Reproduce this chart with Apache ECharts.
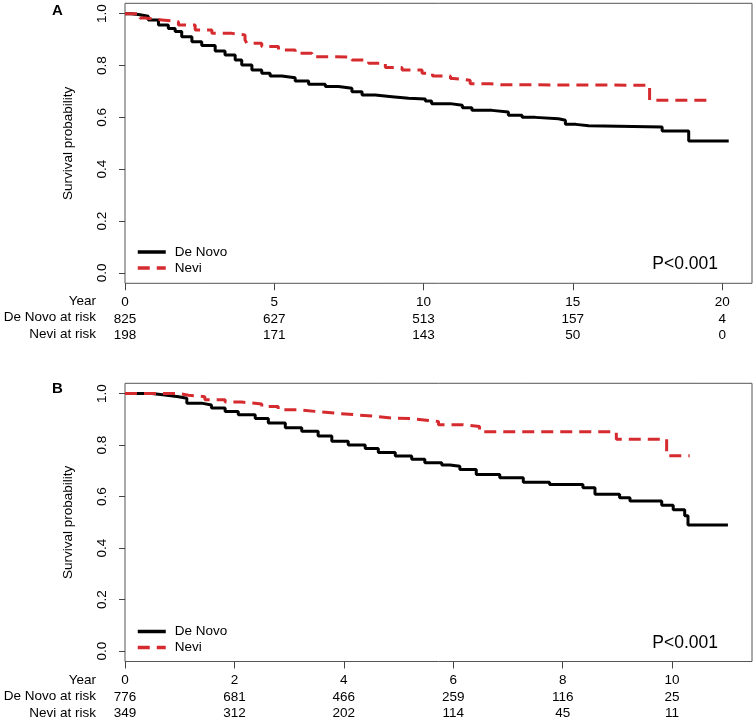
<!DOCTYPE html>
<html>
<head>
<meta charset="utf-8">
<script src="https://cdn.jsdelivr.net/npm/echarts@6/dist/echarts.min.js"></script>
<style>
  html, body { margin: 0; padding: 0; background: #fff; }
  #main { width: 755px; height: 722px; }
</style>
</head>
<body>
<div id="main"></div>
<script>
// Panel A: Kaplan-Meier steps (years, survival)
var deNovoTimeA = [0, 0.2, 0.45, 0.78, 1.12, 1.45, 1.68, 1.9, 2.24, 2.57, 3.02, 3.35, 3.69, 3.91, 4.25, 4.58, 4.86, 5.25, 5.7, 6.15, 6.71, 7.15, 7.6, 7.94, 8.38, 8.94, 9.5, 10.06, 10.27, 10.89, 11.3, 11.62, 12.29, 12.84, 13.3, 13.74, 14.52, 14.75, 15.1, 15.53, 17.99, 18.88, 20.22];
var deNovoSurvA = [1.0, 0.997, 0.99, 0.976, 0.956, 0.943, 0.931, 0.911, 0.892, 0.877, 0.856, 0.841, 0.821, 0.802, 0.783, 0.77, 0.76, 0.753, 0.74, 0.728, 0.719, 0.712, 0.699, 0.686, 0.68, 0.674, 0.671, 0.663, 0.653, 0.647, 0.637, 0.627, 0.621, 0.608, 0.6, 0.595, 0.589, 0.573, 0.568, 0.563, 0.547, 0.509, 0.509];
var neviTimeA = [0, 0.5, 0.67, 1.23, 1.79, 2.35, 2.91, 3.58, 4.02, 4.08, 4.58, 5.14, 5.7, 6.26, 6.93, 7.6, 8.16, 8.72, 9.28, 9.95, 10.3, 10.9, 11.0, 11.56, 12.23, 12.6, 17.57, 19.5];
var neviSurvA = [1.0, 0.983, 0.976, 0.969, 0.956, 0.937, 0.924, 0.918, 0.898, 0.886, 0.873, 0.86, 0.847, 0.834, 0.832, 0.821, 0.809, 0.792, 0.783, 0.77, 0.76, 0.75, 0.743, 0.73, 0.726, 0.724, 0.666, 0.666];
var yearTicksA = [0, 5, 10, 15, 20];
var deNovoRiskA = [825, 627, 513, 157, 4];
var neviRiskA = [198, 171, 143, 50, 0];

// Panel B
var deNovoTimeB = [0, 0.49, 0.73, 0.98, 1.13, 1.4, 1.58, 1.83, 2.07, 2.38, 2.62, 2.93, 3.23, 3.53, 3.78, 4.08, 4.39, 4.63, 4.94, 5.24, 5.48, 5.79, 5.94, 6.12, 6.42, 6.85, 7.28, 7.76, 8.37, 8.59, 9.04, 9.23, 9.81, 10.02, 10.23, 10.29, 11.02];
var deNovoSurvB = [1.0, 0.995, 0.988, 0.982, 0.963, 0.956, 0.944, 0.931, 0.918, 0.903, 0.886, 0.867, 0.854, 0.835, 0.815, 0.8, 0.787, 0.771, 0.758, 0.745, 0.732, 0.723, 0.718, 0.705, 0.686, 0.673, 0.656, 0.647, 0.635, 0.609, 0.596, 0.583, 0.567, 0.549, 0.526, 0.49, 0.49];
var neviTimeB = [0, 1.0, 1.16, 1.46, 1.83, 2.13, 2.5, 2.8, 3.17, 3.47, 3.84, 4.2, 4.57, 4.88, 5.24, 5.55, 5.73, 6.18, 6.48, 8.98, 9.9, 10.32];
var neviSurvB = [1.0, 0.994, 0.988, 0.976, 0.967, 0.96, 0.95, 0.937, 0.931, 0.924, 0.918, 0.912, 0.905, 0.903, 0.896, 0.892, 0.879, 0.872, 0.852, 0.823, 0.759, 0.759];
var yearTicksB = [0, 2, 4, 6, 8, 10];
var deNovoRiskB = [776, 681, 466, 259, 116, 25];
var neviRiskB = [349, 312, 202, 114, 45, 11];

var survTicks = [0, 0.2, 0.4, 0.6, 0.8, 1.0];

var FONT = '"Liberation Sans", Arial, sans-serif';
var RED = '#d52b2f';

function zip(t, s) {
  return t.map(function (v, i) { return [v, s[i]]; });
}

function xAxisFor(idx, xMax, ticks, riskD, riskN) {
  return {
    type: 'value', gridIndex: idx, min: 0, max: xMax,
    axisLine: { show: false, onZero: false },
    splitLine: { show: false },
    axisTick: { show: true, length: 7, customValues: ticks, lineStyle: { color: '#444' } },
    axisLabel: {
      customValues: ticks, margin: 11, color: '#000', fontSize: 13.5,
      fontFamily: FONT, lineHeight: 16.5, align: 'center',
      formatter: function (v) {
        var i = ticks.indexOf(v);
        return v + '\n' + riskD[i] + '\n' + riskN[i];
      }
    }
  };
}

function yAxisFor(idx) {
  return {
    type: 'value', gridIndex: idx, min: -0.04, max: 1.04,
    name: 'Survival probability', nameLocation: 'middle', nameGap: 50,
    nameTextStyle: { color: '#000', fontSize: 13.5, fontFamily: FONT },
    axisLine: { show: false },
    splitLine: { show: false },
    axisTick: { show: true, length: 6, customValues: survTicks, lineStyle: { color: '#444' } },
    axisLabel: {
      customValues: survTicks, rotate: 90, margin: 16, color: '#000',
      fontSize: 13.5, fontFamily: FONT,
      formatter: function (v) { return v.toFixed(1); }
    }
  };
}

function curve(name, idx, data, color, dashed) {
  return {
    name: name, type: 'line', step: 'end', xAxisIndex: idx, yAxisIndex: idx,
    symbol: 'none', data: data,
    lineStyle: { color: color, width: 3, type: dashed ? [12, 7] : 'solid', cap: 'butt' },
    itemStyle: { color: color }
  };
}

function legendFor(top) {
  return {
    orient: 'vertical', left: 131, top: top, itemWidth: 28, itemHeight: 14, itemGap: 2,
    data: ['De Novo', 'Nevi'], selectedMode: false,
    itemStyle: { opacity: 0 },
    lineStyle: { width: 3.5 },
    textStyle: { color: '#000', fontSize: 13.5, fontFamily: FONT, padding: [0, 0, 0, 4] }
  };
}

function rowLabels(yFirst) {
  var names = ['Year', 'De Novo at risk', 'Nevi at risk'];
  return names.map(function (n, i) {
    return {
      type: 'text', right: 755 - 96, top: yFirst + i * 16.5 - 7,
      style: { text: n, fill: '#000', font: '13.5px ' + FONT, textAlign: 'right' }
    };
  });
}

var chart = echarts.init(document.getElementById('main'), null, { renderer: 'canvas' });

chart.setOption({
  animation: false,
  backgroundColor: '#fff',
  grid: [
    { left: 125, top: 3.3, width: 627, height: 280, show: true, borderColor: '#555', borderWidth: 1, backgroundColor: 'transparent' },
    { left: 125, top: 383.3, width: 627, height: 280, show: true, borderColor: '#555', borderWidth: 1, backgroundColor: 'transparent' }
  ],
  xAxis: [
    xAxisFor(0, 21, yearTicksA, deNovoRiskA, neviRiskA),
    xAxisFor(1, 11.46, yearTicksB, deNovoRiskB, neviRiskB)
  ],
  yAxis: [yAxisFor(0), yAxisFor(1)],
  legend: [legendFor(240), legendFor(619.5)],
  series: [
    curve('De Novo', 0, zip(deNovoTimeA, deNovoSurvA), '#000', false),
    curve('Nevi', 0, zip(neviTimeA, neviSurvA), RED, true),
    curve('De Novo', 1, zip(deNovoTimeB, deNovoSurvB), '#000', false),
    curve('Nevi', 1, zip(neviTimeB, neviSurvB), RED, true)
  ],
  graphic: [
    { type: 'text', left: 52, top: 3, style: { text: 'A', fill: '#000', font: 'bold 15px ' + FONT } },
    { type: 'text', left: 52, top: 381, style: { text: 'B', fill: '#000', font: 'bold 15px ' + FONT } },
    { type: 'text', right: 755 - 718, top: 255.5, style: { text: 'P<0.001', fill: '#000', font: '17.5px ' + FONT } },
    { type: 'text', right: 755 - 718, top: 634, style: { text: 'P<0.001', fill: '#000', font: '17.5px ' + FONT } }
  ].concat(rowLabels(301), rowLabels(680))
});
</script>
</body>
</html>
